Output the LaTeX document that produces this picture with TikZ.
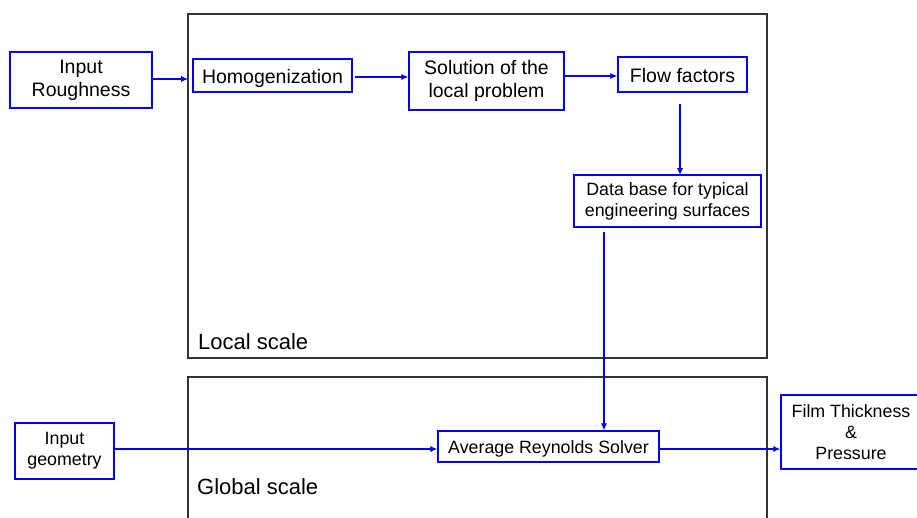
\documentclass[tikz,border=0pt]{standalone}
\usepackage{fontspec}
\setmainfont{Liberation Sans}
\usetikzlibrary{arrows.meta, positioning}

\begin{document}
\begin{tikzpicture}[
        x=1pt, y=-1pt,
        box/.style={rectangle, draw=blue, line width=1.5pt, align=center, inner sep=0pt, fill=white},
        bigtext/.style={font=\fontsize{19.5}{23}\selectfont},
        smalltext/.style={font=\fontsize{17.8}{21}\selectfont},
        oneline/.style={text height=#1, text depth=0pt},
        frame/.style={draw=black!80, line width=1.2pt},
        arrow/.style={-{Latex[length=7pt,width=6.5pt]}, blue, line width=1.6pt}
    ]
    \useasboundingbox (0,0) rectangle (917,517);

    % Scale frames
    \draw[frame] (188,14) rectangle (767,358);
    \draw[frame] (188,377) rectangle (767,540);
    \node[anchor=base west, font=\fontsize{22}{26}\selectfont, inner sep=0pt] (locallbl) at (198,349) {Local scale};
    \node[anchor=base west, font=\fontsize{22}{26}\selectfont, inner sep=0pt] (globallbl) at (197,494) {Global scale};

    % Local scale
    \node[box, bigtext, minimum width=142pt, minimum height=56pt] (rough) at (81,80) {Input\\Roughness};
    \node[box, bigtext, oneline=15pt, minimum width=159pt, minimum height=33pt] (homog) at (272.5,75.5) {Homogenization};
    \node[box, bigtext, minimum width=155pt, minimum height=58pt] (local) at (486.5,81) {Solution of the\\local problem};
    \node[box, bigtext, oneline=15pt, minimum width=129pt, minimum height=35pt] (flow) at (682.5,74.5) {Flow factors};
    \node[box, smalltext, minimum width=187pt, minimum height=52pt] (database) at (667.5,201) {Data base for typical\\engineering surfaces};
    \coordinate (localin) at (188,79);
    \coordinate (dbin) at (680,175);
    \coordinate (dbout) at (604,227);

    % Global scale
    \node[box, smalltext, minimum width=99pt, minimum height=56pt] (geom) at (64.5,451) {Input\\geometry};
    \node[box, smalltext, oneline=14pt, minimum width=221pt, minimum height=31pt] (reynolds) at (548.5,446.5) {Average Reynolds Solver};
    \node[box, smalltext, minimum width=140pt, minimum height=74pt] (film) at (851,432) {Film Thickness\\\&\\Pressure};

    % Edges
    \draw[arrow] (rough.east |- localin) -- (localin);
    \draw[arrow, shorten <=2pt] (homog.east |- 0,77) -- (local.west |- 0,77);
    \draw[arrow] (local.east |- 0,76) -- (flow.west |- 0,76);
    \draw[arrow, shorten <=11pt] (flow.south -| dbin) -- (dbin);
    \draw[arrow, shorten <=5pt] (dbout) -- (dbout |- reynolds.north);
    \draw[arrow] (geom.east |- 0,449) -- (reynolds.west |- 0,449);
    \draw[arrow] (reynolds.east |- 0,449) -- (film.west |- 0,449);
\end{tikzpicture}
\end{document}
